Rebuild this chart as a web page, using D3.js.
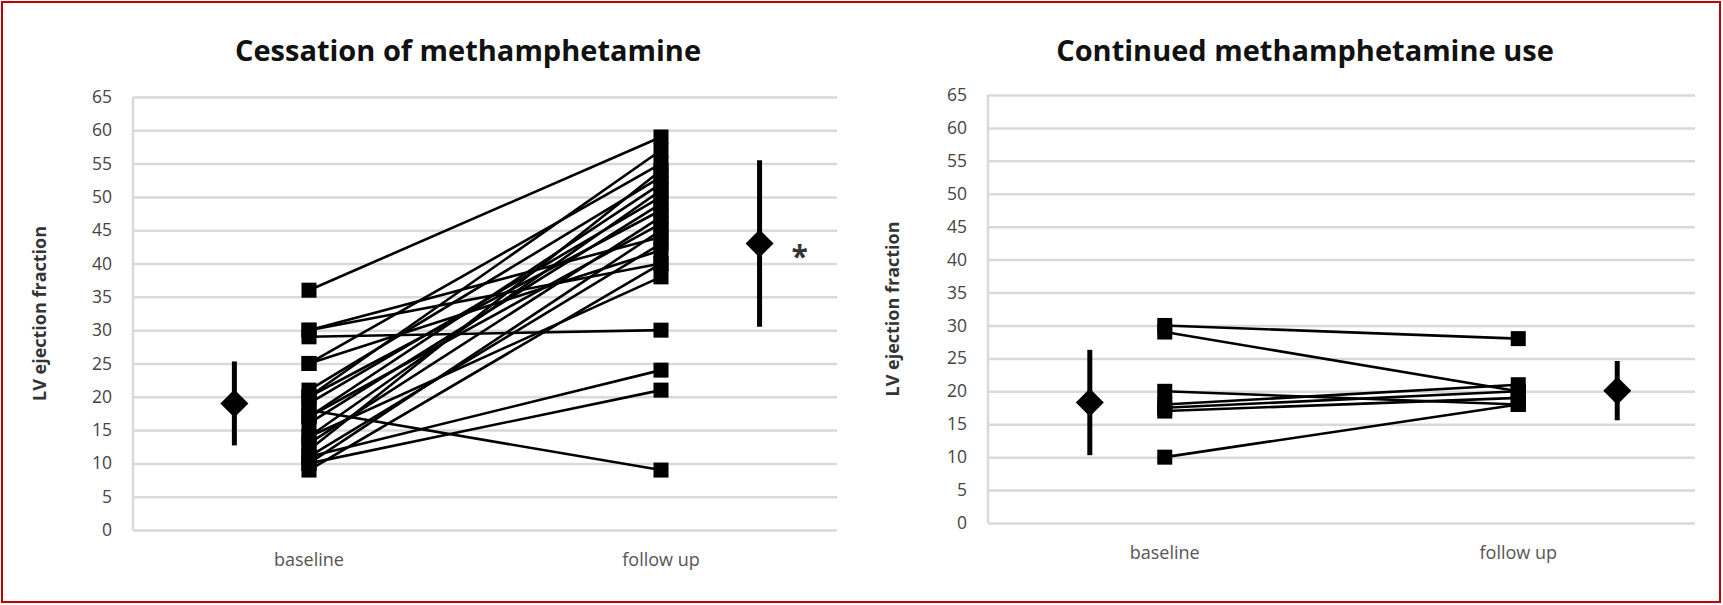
<!DOCTYPE html>
<html>
<head>
<meta charset="utf-8">
<script src="https://cdn.jsdelivr.net/npm/d3@7"></script>
<style>
  html, body { margin: 0; padding: 0; background: #fff; }
  svg { display: block; }
</style>
</head>
<body>
<svg id="chart" width="1723" height="605"></svg>
<script>
// ---------- data ----------
const categories = ["baseline", "follow up"];
const yTicks = [0, 5, 10, 15, 20, 25, 30, 35, 40, 45, 50, 55, 60, 65];
const titles = ["Cessation of methamphetamine", "Continued methamphetamine use"];
const yAxisTitle = "LV ejection fraction";

// Cessation group: paired values per subject
const cessationBaseline = [36, 30, 30, 29, 25, 25, 21, 20, 20, 19, 18, 17, 17, 16, 14, 14, 13, 12, 11, 11, 10, 10, 9];
const cessationFollowUp = [59, 44, 40, 30, 55, 42, 53, 57, 48, 50, 9, 52, 46, 49, 51, 38, 47, 54, 24, 43, 21, 45, 40];
const cessationMean = [19.0, 43.0];
const cessationSD = [6.3, 12.5];
const cessationMark = ["", "*"];

// Continued use group
const continuedBaseline = [30, 29, 20, 18, 17.5, 17, 10];
const continuedFollowUp = [28, 20, 18, 21, 20, 19, 18];
const continuedMean = [18.3, 20.1];
const continuedSD = [8.0, 4.5];
const continuedMark = ["", ""];

// ---------- layout ----------
const panels = [
  { title: titles[0], base: cessationBaseline, follow: cessationFollowUp, mean: cessationMean, sd: cessationSD, mark: cessationMark,
    left: 133, right: 837, top: 97, bottom: 530, tickX: 112, titleX: 468, yTitleX: 40, catY: 560 },
  { title: titles[1], base: continuedBaseline, follow: continuedFollowUp, mean: continuedMean, sd: continuedSD, mark: continuedMark,
    left: 988, right: 1695, top: 95, bottom: 523, tickX: 967, titleX: 1305, yTitleX: 893, catY: 553 }
];
const meanOffset = [-0.106, 0.14]; // fraction of plot width, relative to category centre

const svg = d3.select("#chart");
svg.append("rect").attr("x", 0).attr("y", 0).attr("width", 1723).attr("height", 605).attr("fill", "#fff");

panels.forEach(p => {
  const g = svg.append("g");
  const W = p.right - p.left;
  const y = d3.scaleLinear().domain([0, 65]).range([p.bottom, p.top]);
  const x = d3.scaleBand().domain(categories).range([p.left, p.right]).padding(0);
  const cx = c => x(c) + x.bandwidth() / 2;

  // gridlines
  const grid = g.append("g").attr("transform", `translate(${p.left},0)`)
    .call(d3.axisLeft(y).tickValues(yTicks).tickSize(-W).tickFormat(""));
  grid.select(".domain").remove();
  grid.selectAll(".tick line").attr("stroke", "#d9d9d9").attr("stroke-width", 2.5);

  // left axis line
  g.append("line").attr("x1", p.left).attr("x2", p.left).attr("y1", y(65)).attr("y2", y(0))
    .attr("stroke", "#d9d9d9").attr("stroke-width", 2.5);

  // tick labels
  const ax = g.append("g").attr("transform", `translate(${p.left},0)`)
    .call(d3.axisLeft(y).tickValues(yTicks).tickSize(0).tickPadding(p.left - p.tickX));
  ax.select(".domain").remove();
  ax.selectAll("text").attr("font-family", "'Open Sans', sans-serif").attr("font-size", 17.5)
    .attr("fill", "#444");

  // category labels
  g.selectAll(".cat").data(categories).join("text")
    .attr("x", d => cx(d)).attr("y", p.catY).attr("dy", "0.35em")
    .attr("text-anchor", "middle").attr("font-family", "'Open Sans', sans-serif")
    .attr("font-size", 18).attr("fill", "#555").text(d => d);

  // title
  g.append("text").attr("x", p.titleX).attr("y", 61).attr("text-anchor", "middle")
    .attr("font-family", "'Open Sans', sans-serif").attr("font-weight", "bold")
    .attr("font-size", 29).attr("fill", "#111").text(p.title);

  // y axis title
  g.append("text").attr("transform", `translate(${p.yTitleX},${(p.top + p.bottom) / 2}) rotate(-90)`)
    .attr("text-anchor", "middle").attr("dy", "0.35em")
    .attr("font-family", "'Open Sans', sans-serif").attr("font-weight", "bold")
    .attr("font-size", 18).attr("fill", "#333").text(yAxisTitle);

  // subject lines
  const pairs = p.base.map((b, i) => [b, p.follow[i]]);
  g.selectAll(".subj").data(pairs).join("line")
    .attr("x1", cx(categories[0])).attr("x2", cx(categories[1]))
    .attr("y1", d => y(d[0])).attr("y2", d => y(d[1]))
    .attr("stroke", "#000").attr("stroke-width", 2.6);

  // squares
  const sq = 15;
  [p.base, p.follow].forEach((vals, ci) => {
    g.selectAll(".sq" + ci).data(vals).join("rect")
      .attr("x", cx(categories[ci]) - sq / 2).attr("y", d => y(d) - sq / 2)
      .attr("width", sq).attr("height", sq).attr("fill", "#000");
  });

  // mean ± SD markers
  categories.forEach((c, ci) => {
    const mx = cx(c) + meanOffset[ci] * W;
    const m = p.mean[ci], s = p.sd[ci];
    g.append("line").attr("x1", mx).attr("x2", mx).attr("y1", y(m + s)).attr("y2", y(m - s))
      .attr("stroke", "#000").attr("stroke-width", 5);
    const h = 14;
    const my = y(m);
    g.append("path").attr("d", `M${mx},${my - h}L${mx + h},${my}L${mx},${my + h}L${mx - h},${my}Z`)
      .attr("fill", "#000");
    if (p.mark[ci]) {
      g.append("text").attr("x", mx + 40).attr("y", my + 23).attr("text-anchor", "middle")
        .attr("font-family", "'Open Sans', sans-serif").attr("font-weight", "bold").attr("font-size", 30)
        .attr("fill", "#333").text(p.mark[ci]);
    }
  });
});

// red frame
svg.append("rect").attr("x", 2).attr("y", 2).attr("width", 1718).attr("height", 600)
  .attr("fill", "none").attr("stroke", "#c00000").attr("stroke-width", 2);
</script>
</body>
</html>
